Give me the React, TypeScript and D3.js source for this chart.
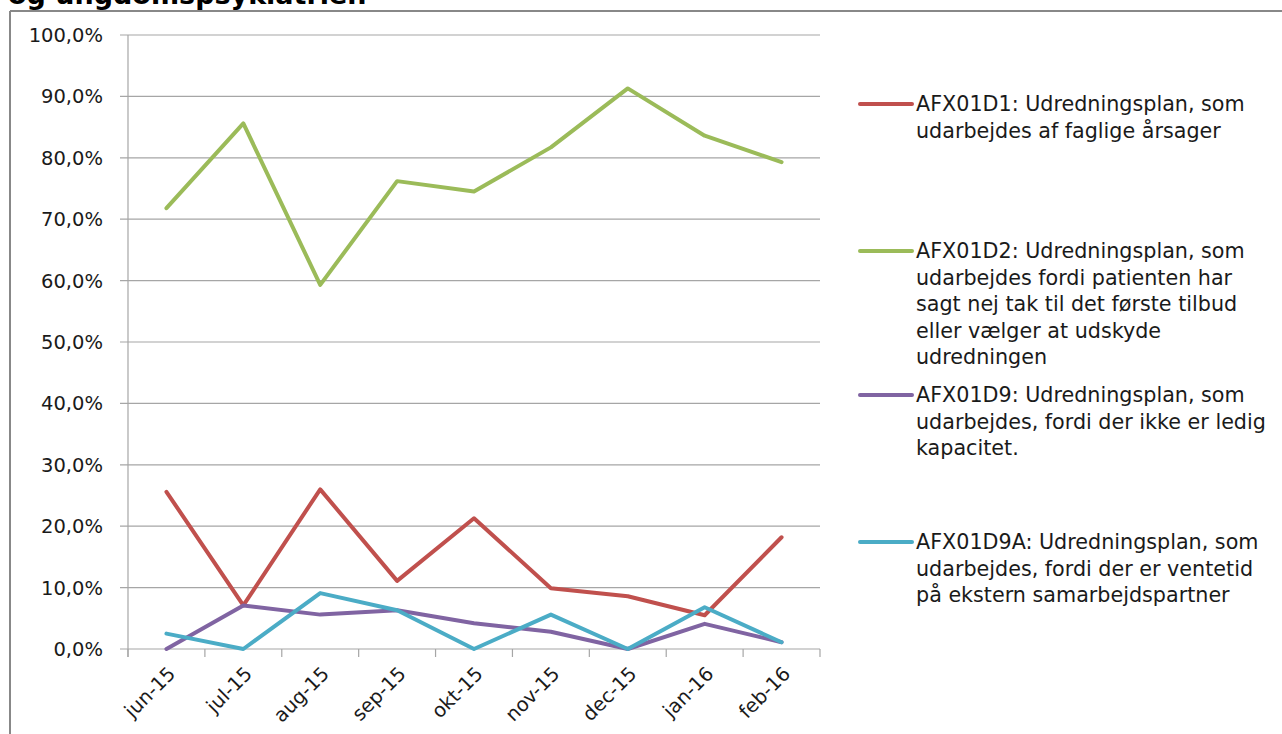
import React from "react";
import * as d3 from "d3";

const months = ["jun-15", "jul-15", "aug-15", "sep-15", "okt-15", "nov-15", "dec-15", "jan-16", "feb-16"];
const d1 = [25.6, 7.1, 26.0, 11.1, 21.3, 9.9, 8.6, 5.5, 18.2];
const d2 = [71.8, 85.6, 59.3, 76.2, 74.5, 81.7, 91.3, 83.6, 79.3];
const d9 = [0, 7.1, 5.6, 6.3, 4.2, 2.8, 0, 4.1, 1.1];
const d9a = [2.5, 0, 9.1, 6.3, 0, 5.6, 0, 6.8, 1.1];
const yTicks = [0, 10, 20, 30, 40, 50, 60, 70, 80, 90, 100];

const seriesList = [
  { values: d1, color: "#C0504D", label: ["AFX01D1: Udredningsplan, som", "udarbejdes af faglige årsager"], ly: 104 },
  { values: d2, color: "#9BBB59", label: ["AFX01D2: Udredningsplan, som", "udarbejdes fordi patienten har", "sagt nej tak til det første tilbud", "eller vælger at udskyde", "udredningen"], ly: 251 },
  { values: d9, color: "#8064A2", label: ["AFX01D9: Udredningsplan, som", "udarbejdes, fordi der ikke er ledig", "kapacitet."], ly: 395 },
  { values: d9a, color: "#4BACC6", label: ["AFX01D9A: Udredningsplan, som", "udarbejdes, fordi der er ventetid", "på ekstern samarbejdspartner"], ly: 542 },
];

const FONT = "'DejaVu Sans', Verdana, sans-serif";

export default function App() {
  const W = 1282, H = 734;
  const left = 128, right = 820, top = 35, bottom = 649;
  const x = d3.scaleBand<string>().domain(months).range([left, right]);
  const y = d3.scaleLinear().domain([0, 100]).range([bottom, top]);
  const line = d3.line<number>()
    .x((_, i) => (x(months[i]) as number) + x.bandwidth() / 2)
    .y((v) => y(v));
  const fmt = (v: number) => v.toFixed(1).replace(".", ",") + "%";
  const bounds = months.map((m) => x(m) as number).concat([right]);

  return (
    <svg width={W} height={H} style={{ position: "absolute", left: 0, top: 0, background: "#fff" }} fontFamily={FONT}>
      <rect x={0} y={0} width={W} height={H} fill="#fff" />
      <text x={8} y={4} fontSize={27} fontWeight="bold" fill="#000">og ungdomspsykiatrien</text>
      <line x1={10} y1={11} x2={W} y2={11} stroke="#888" strokeWidth={2} />
      <line x1={10} y1={11} x2={10} y2={H} stroke="#888" strokeWidth={2} />
      {yTicks.map((t) => (
        <g key={t}>
          <line x1={left - 8} x2={right} y1={y(t)} y2={y(t)} stroke="#A6A6A6" strokeWidth={1.2} />
          <text x={103} y={y(t)} dy="0.36em" textAnchor="end" fontSize={19.5} fill="#1a1a1a">{fmt(t)}</text>
        </g>
      ))}
      <line x1={left} x2={left} y1={top} y2={bottom + 8} stroke="#A6A6A6" strokeWidth={1.2} />
      {bounds.map((b, i) => (
        <line key={i} x1={b} x2={b} y1={bottom} y2={bottom + 8} stroke="#A6A6A6" strokeWidth={1.2} />
      ))}
      {months.map((m) => {
        const cx = (x(m) as number) + x.bandwidth() / 2 + 10;
        const cy = bottom + 26;
        return (
          <text key={m} x={cx} y={cy} textAnchor="end" fontSize={19.5} fill="#1a1a1a" transform={`rotate(-45 ${cx} ${cy})`}>{m}</text>
        );
      })}
      {seriesList.map((s, i) => (
        <path key={i} d={line(s.values) || ""} fill="none" stroke={s.color} strokeWidth={4} strokeLinejoin="round" strokeLinecap="round" />
      ))}
      {seriesList.map((s, i) => (
        <g key={i}>
          <line x1={860} x2={912} y1={s.ly} y2={s.ly} stroke={s.color} strokeWidth={4} strokeLinecap="round" />
          {s.label.map((l, j) => (
            <text key={j} x={916} y={s.ly + j * 26.4} dy="0.36em" fontSize={20.7} fill="#1a1a1a">{l}</text>
          ))}
        </g>
      ))}
    </svg>
  );
}
